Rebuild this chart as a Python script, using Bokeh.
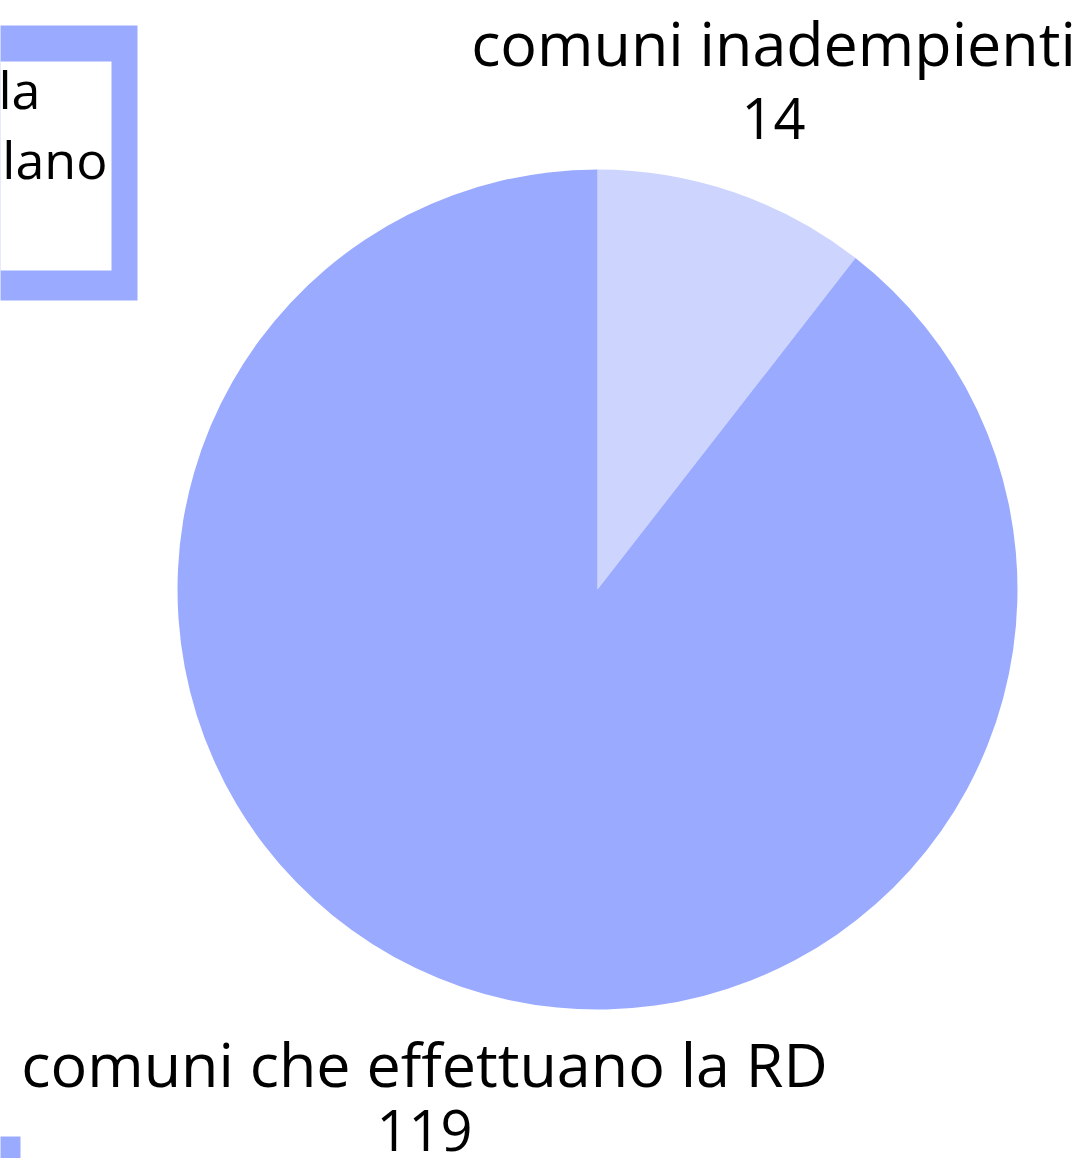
import math
from bokeh.plotting import figure
from bokeh.models import Range1d, ColumnDataSource
from bokeh.core.properties import value
from bokeh.embed import file_html
from bokeh.resources import INLINE

# ---- data ----
categories = ["comuni inadempienti", "comuni che effettuano la RD"]
counts = [14, 119]
colors = ["#CDD5FF", "#9AABFF"]
legend_fragments = ["la", "lano"]

# ---- figure in reference pixel coords (y measured from bottom) ----
W, H = 1091, 1158
TOT_H = 1158
p = figure(width=W, height=H, x_range=Range1d(0, W), y_range=Range1d(0, H),
           output_backend="svg", toolbar_location=None, min_border=0)
p.axis.visible = False
p.grid.visible = False
p.outline_line_color = None
p.background_fill_color = "white"
p.border_fill_color = "white"

def Y(y):
    return TOT_H - y

# ---- pie ----
total = sum(counts)
starts, ends = [], []
a = math.pi / 2
for c in counts:
    starts.append(a)
    a = a - 2 * math.pi * c / total
    ends.append(a)
src = ColumnDataSource(dict(start=starts, end=ends, color=colors, cat=categories, n=counts))
cx, cy, r = 597, Y(589), 420
p.wedge(x=cx, y=cy, radius=r, start_angle="start", end_angle="end", direction="clock",
        fill_color="color", line_color=None, source=src)

# ---- labels ----
font = value("Open Sans")
lab_x = [773, 424]
p.text(x=lab_x, y=[Y(42), Y(1063)], text=categories, text_align="center", text_baseline="middle",
       text_font=font, text_font_size="61px", text_color="#000000")
p.text(x=lab_x, y=[Y(118), Y(1130)], text=[str(c) for c in counts], text_align="center", text_baseline="middle",
       text_font=font, text_font_size="56px", text_color="#000000")

# ---- partially visible legend box (top-left) ----
p.quad(left=-100, right=137, bottom=Y(300), top=Y(25), fill_color=colors[1], line_color=None)
p.quad(left=-100, right=111, bottom=Y(270), top=Y(61), fill_color="white", line_color=None)
p.text(x=[40, 107], y=[Y(88), Y(158)], text=legend_fragments, text_align="right", text_baseline="middle",
       text_font=font, text_font_size="52px", text_color="#000000")

# ---- small square bottom-left ----
p.quad(left=-100, right=20, bottom=Y(1170), top=Y(1136), fill_color=colors[1], line_color=None)

open("out.html", "w").write(file_html(p, INLINE))
